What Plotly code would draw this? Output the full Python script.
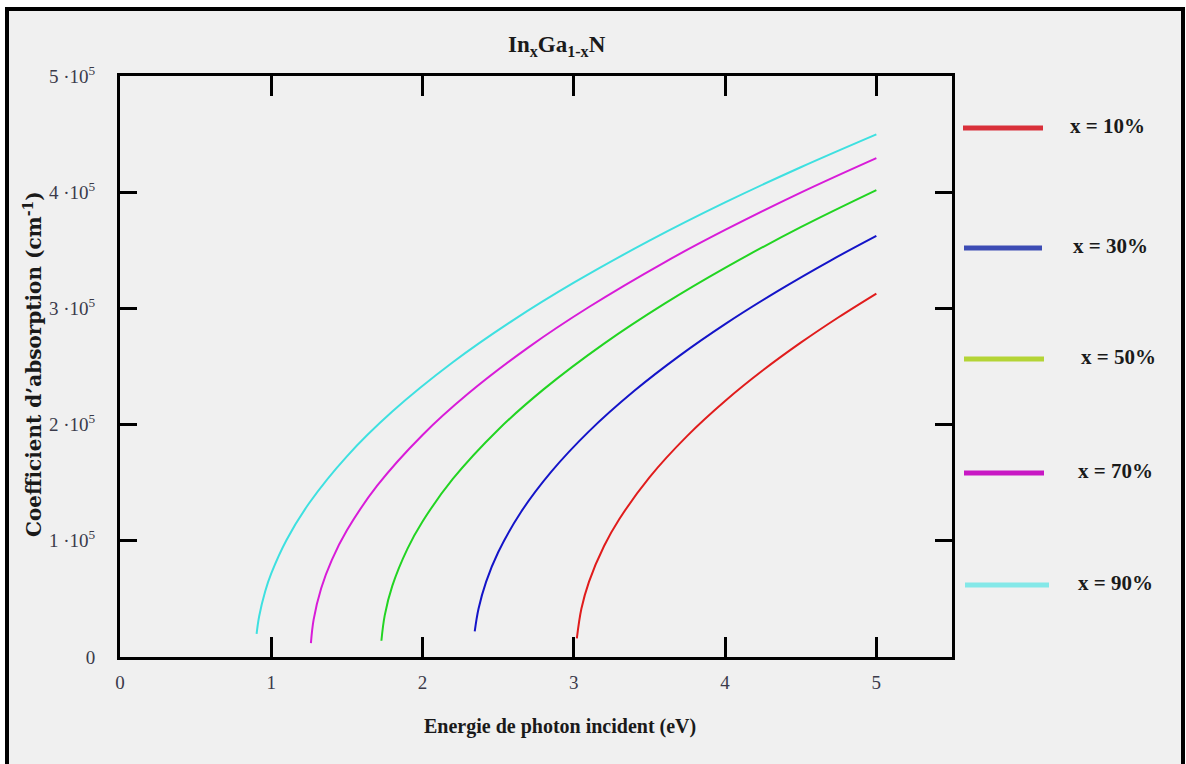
import plotly.graph_objects as go

# ---- data ----
# photon energy (eV) and absorption coefficient (in units of 1e5 cm^-1)
e_10 = [3.02, 3.05, 3.1, 3.2, 3.3, 3.5, 3.75, 4.0, 4.25, 4.5, 4.75, 5.0]
a_10 = [0.16, 0.415, 0.647, 0.955, 1.185, 1.546, 1.903, 2.203, 2.467, 2.705, 2.924, 3.128]

e_30 = [2.345, 2.37, 2.42, 2.5, 2.65, 2.85, 3.1, 3.4, 3.7, 4.0, 4.35, 4.7, 5.0]
a_30 = [0.22, 0.415, 0.647, 0.902, 1.246, 1.593, 1.942, 2.291, 2.594, 2.865, 3.151, 3.414, 3.624]

e_50 = [1.728, 1.75, 1.8, 1.9, 2.0, 2.2, 2.5, 2.8, 3.2, 3.6, 4.0, 4.5, 5.0]
a_50 = [0.14, 0.358, 0.612, 0.931, 1.166, 1.532, 1.956, 2.303, 2.697, 3.041, 3.349, 3.699, 4.018]

e_70 = [1.262, 1.28, 1.33, 1.4, 1.5, 1.7, 2.0, 2.3, 2.7, 3.1, 3.6, 4.0, 4.5, 5.0]
a_70 = [0.12, 0.322, 0.592, 0.834, 1.090, 1.474, 1.911, 2.265, 2.665, 3.012, 3.397, 3.675, 3.997, 4.294]

e_90 = [0.903, 0.92, 0.96, 1.0, 1.1, 1.25, 1.5, 1.8, 2.2, 2.6, 3.0, 3.5, 4.0, 4.5, 5.0]
a_90 = [0.20, 0.351, 0.566, 0.719, 1.005, 1.323, 1.727, 2.112, 2.536, 2.899, 3.221, 3.583, 3.912, 4.215, 4.498]

legend_labels = ["x = 10%", "x = 30%", "x = 50%", "x = 70%", "x = 90%"]
curve_colors = ["#e01c1c", "#1414c8", "#22d422", "#d81cd8", "#3ee0e0"]
legend_colors = ["#d9303a", "#3c4cb4", "#b4d436", "#c818c4", "#84e8e8"]

x_tickvals = [0, 1, 2, 3, 4, 5]
x_ticktext = ["0", "1", "2", "3", "4", "5"]
y_tickvals = [0, 1, 2, 3, 4, 5]
y_ticktext = ["0", "1 ·10<sup>5</sup>", "2 ·10<sup>5</sup>", "3 ·10<sup>5</sup>",
              "4 ·10<sup>5</sup>", "5 ·10<sup>5</sup>"]

series = [(e_10, a_10), (e_30, a_30), (e_50, a_50), (e_70, a_70), (e_90, a_90)]

W, H = 1186, 764
L, R, T, B = 120, 952, 76, 657


def px(xp):
    return (xp - L) / (R - L)


def py(yp):
    return (B - yp) / (B - T)


fig = go.Figure()
for (e, a), c, name in zip(series, curve_colors, legend_labels):
    fig.add_trace(go.Scatter(x=e, y=a, mode="lines", name=name,
                             line=dict(color=c, width=2, shape="spline"),
                             showlegend=False))

serif = "Liberation Serif"

shapes = [
    dict(type="rect", xref="paper", yref="paper",
         x0=px(7), x1=px(1183), y0=py(790), y1=py(9),
         line=dict(color="black", width=4), fillcolor="#f0f0f0", layer="below"),
]
annotations = []
legend_y = [128, 248, 359, 473, 585]
legend_line_x = [(963, 1043), (964, 1042), (964, 1044), (964, 1044), (965, 1049)]
legend_text_x = [1107, 1110, 1118, 1115, 1115]
for lab, col, yy, (xa, xb), tx in zip(legend_labels, legend_colors, legend_y,
                                       legend_line_x, legend_text_x):
    shapes.append(dict(type="line", xref="paper", yref="paper",
                       x0=px(xa), x1=px(xb), y0=py(yy), y1=py(yy),
                       line=dict(color=col, width=5)))
    annotations.append(dict(xref="paper", yref="paper", x=px(tx), y=py(yy - 2),
                            text="<b>" + lab + "</b>", showarrow=False,
                            xanchor="center", yanchor="middle",
                            font=dict(family=serif, size=21, color="#1a1a1a")))

annotations.append(dict(xref="paper", yref="paper", x=px(557), y=py(46),
                        text="<b>In<sub>x</sub>Ga<sub>1-x</sub>N</b>", showarrow=False,
                        xanchor="center", yanchor="middle",
                        font=dict(family=serif, size=23, color="#1a1a1a")))
annotations.append(dict(xref="paper", yref="paper", x=px(560), y=py(726),
                        text="<b>Energie de photon incident (eV)</b>", showarrow=False,
                        xanchor="center", yanchor="middle",
                        font=dict(family=serif, size=20, color="#1a1a1a")))
annotations.append(dict(xref="paper", yref="paper", x=px(33), y=py(364),
                        text="<b>Coefficient d’absorption (cm<sup>-1</sup>)</b>",
                        showarrow=False, textangle=-90,
                        xanchor="center", yanchor="middle",
                        font=dict(family="DejaVu Serif", size=20, color="#1a1a1a")))

fig.update_layout(
    width=W, height=H,
    margin=dict(l=L, r=W - R, t=T, b=H - B),
    paper_bgcolor="white", plot_bgcolor="rgba(0,0,0,0)",
    shapes=shapes, annotations=annotations,
    showlegend=False,
)
fig.update_xaxes(range=[0, 5.5], tickvals=x_tickvals, ticktext=x_ticktext,
                 showgrid=False, zeroline=False, showline=True, linecolor="black",
                 linewidth=3, mirror="ticks", ticks="inside", ticklen=20,
                 tickwidth=3, tickcolor="black", ticklabelstandoff=6,
                 tickfont=dict(family=serif, size=19, color="#3a3a4a"))
fig.update_yaxes(range=[0, 5], tickvals=y_tickvals, ticktext=y_ticktext,
                 showgrid=False, zeroline=False, showline=True, linecolor="black",
                 linewidth=3, mirror="ticks", ticks="inside", ticklen=17,
                 tickwidth=3, tickcolor="black", ticklabelstandoff=18,
                 tickfont=dict(family=serif, size=19, color="#3a3a4a"))

fig.write_html("out.html", config={"displayModeBar": False},
               post_script="document.body.style.margin='0';")
